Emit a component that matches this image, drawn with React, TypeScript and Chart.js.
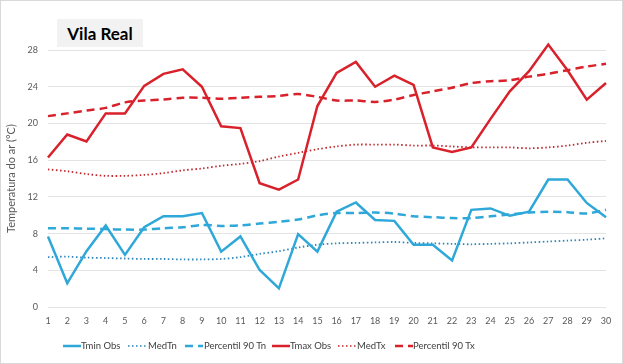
import React, { useEffect, useRef } from "react";
import { Chart, registerables } from "chart.js";

Chart.register(...registerables);

const days = Array.from({ length: 30 }, (_, i) => String(i + 1));

const tminObs = [7.7, 2.6, 6.1, 8.9, 5.7, 8.7, 9.9, 9.9, 10.25, 6.05, 7.7, 4.05, 2.05, 7.95, 6.05, 10.4, 11.4, 9.5, 9.4, 6.8, 6.8, 5.1, 10.6, 10.75, 9.95, 10.4, 13.9, 13.9, 11.35, 9.8];
const medTn = [5.45, 5.5, 5.4, 5.35, 5.3, 5.25, 5.25, 5.2, 5.2, 5.25, 5.45, 5.8, 6.1, 6.5, 6.8, 6.95, 7.0, 7.05, 7.1, 7.0, 6.95, 6.9, 6.85, 6.9, 6.95, 7.05, 7.15, 7.25, 7.35, 7.5];
const p90Tn = [8.6, 8.6, 8.55, 8.5, 8.45, 8.45, 8.6, 8.7, 8.95, 8.85, 8.9, 9.1, 9.3, 9.55, 10.0, 10.25, 10.25, 10.3, 10.2, 9.9, 9.8, 9.7, 9.7, 9.9, 10.1, 10.3, 10.4, 10.35, 10.2, 10.6];
const tmaxObs = [16.3, 18.8, 18.05, 21.1, 21.1, 24.1, 25.4, 25.9, 24.0, 19.7, 19.5, 13.5, 12.8, 13.9, 21.9, 25.5, 26.7, 24.0, 25.2, 24.2, 17.4, 16.9, 17.4, 20.5, 23.5, 25.7, 28.6, 25.8, 22.6, 24.4];
const medTx = [15.0, 14.8, 14.5, 14.3, 14.3, 14.4, 14.6, 14.9, 15.1, 15.4, 15.6, 15.9, 16.4, 16.8, 17.2, 17.5, 17.7, 17.7, 17.7, 17.6, 17.6, 17.5, 17.4, 17.4, 17.4, 17.3, 17.4, 17.6, 17.9, 18.1];
const p90Tx = [20.8, 21.1, 21.4, 21.7, 22.3, 22.5, 22.6, 22.8, 22.8, 22.7, 22.8, 22.9, 23.0, 23.2, 22.9, 22.5, 22.5, 22.35, 22.6, 23.1, 23.5, 23.9, 24.4, 24.6, 24.7, 25.1, 25.4, 25.8, 26.2, 26.5];

const yTicks = [0, 4, 8, 12, 16, 20, 24, 28];

const BLUE = "#2ea7d9";
const BLUE_DOT = "#2a86b8";
const RED = "#d9212b";
const RED_DOT = "#c1272d";

const SOLID: number[] = [];
const DOT = [1.5, 2.5];
const DASH = [8, 5];

const FONT = "Lato, 'Open Sans', sans-serif";

const series = [
  { label: "Tmin Obs", data: tminObs, color: BLUE, dash: SOLID, width: 2.5, tension: 0, lx: 63, tx: 81 },
  { label: "MedTn", data: medTn, color: BLUE_DOT, dash: DOT, width: 1.8, tension: 0.3, lx: 128, tx: 148 },
  { label: "Percentil 90 Tn", data: p90Tn, color: BLUE, dash: DASH, width: 2.5, tension: 0.3, lx: 185, tx: 204 },
  { label: "Tmax Obs", data: tmaxObs, color: RED, dash: SOLID, width: 2.5, tension: 0, lx: 272, tx: 290 },
  { label: "MedTx", data: medTx, color: RED_DOT, dash: DOT, width: 1.8, tension: 0.3, lx: 338, tx: 357 },
  { label: "Percentil 90 Tx", data: p90Tx, color: RED, dash: DASH, width: 2.5, tension: 0.3, lx: 395, tx: 413 },
];

export default function App() {
  const ref = useRef<HTMLCanvasElement | null>(null);

  useEffect(() => {
    if (!ref.current) return;
    const chart = new Chart(ref.current, {
      type: "line",
      data: {
        labels: days,
        datasets: series.map((s) => ({
          label: s.label,
          data: s.data,
          borderColor: s.color,
          backgroundColor: s.color,
          borderWidth: s.width,
          borderDash: s.dash,
          pointRadius: 0,
          tension: s.tension,
          clip: false,
        })),
      },
      options: {
        animation: false,
        responsive: false,
        maintainAspectRatio: false,
        layout: { padding: { top: 49, right: 16, bottom: 29, left: 4 } },
        plugins: {
          title: { display: false },
          tooltip: { enabled: false },
          legend: { display: false },
        },
        scales: {
          x: {
            grid: { display: false, drawTicks: false },
            border: { display: false },
            ticks: { color: "#595959", font: { family: FONT, size: 9 }, maxRotation: 0, autoSkip: false, padding: 8 },
          },
          y: {
            min: 0,
            max: 28,
            afterBuildTicks: (s: any) => { s.ticks = yTicks.map((v) => ({ value: v })); },
            afterFit: (s: any) => { s.width = 43; },
            grid: { color: "#e3e3e3", drawTicks: false, lineWidth: 1 },
            border: { display: false },
            ticks: { color: "#595959", font: { family: FONT, size: 9 }, padding: 10 },
            title: { display: true, text: "Temperatura do ar (°C)", color: "#595959", font: { family: FONT, size: 11 }, padding: 0 },
          },
        },
      },
    });
    return () => chart.destroy();
  }, []);

  return (
    <div style={{ position: "relative", width: 623, height: 364, boxSizing: "border-box", border: "1px solid #d9d9d9", background: "#fff" }}>
      <style>{"body{margin:0}"}</style>
      <canvas ref={ref} width={621} height={362} style={{ display: "block" }} />
      <div
        style={{
          position: "absolute",
          left: 56,
          top: 18,
          width: 86,
          height: 28,
          background: "#f2f2f2",
          fontFamily: FONT,
          fontWeight: "bold",
          fontSize: 17,
          color: "#000",
          display: "flex",
          alignItems: "center",
          justifyContent: "center",
        }}
      >
        Vila Real
      </div>
      {series.map((s) => (
        <React.Fragment key={s.label}>
          <svg
            width={18}
            height={6}
            style={{ position: "absolute", left: s.lx - 1, top: 342 }}
          >
            <line
              x1={0}
              y1={3}
              x2={18}
              y2={3}
              stroke={s.color}
              strokeWidth={s.dash === DOT ? 1.6 : 2.5}
              strokeDasharray={s.dash.length ? s.dash.join(" ") : undefined}
            />
          </svg>
          <span
            style={{
              position: "absolute",
              left: s.tx - 1,
              top: 338,
              fontFamily: FONT,
              fontSize: 9.5,
              lineHeight: "14px",
              color: "#404040",
              whiteSpace: "nowrap",
            }}
          >
            {s.label}
          </span>
        </React.Fragment>
      ))}
    </div>
  );
}
